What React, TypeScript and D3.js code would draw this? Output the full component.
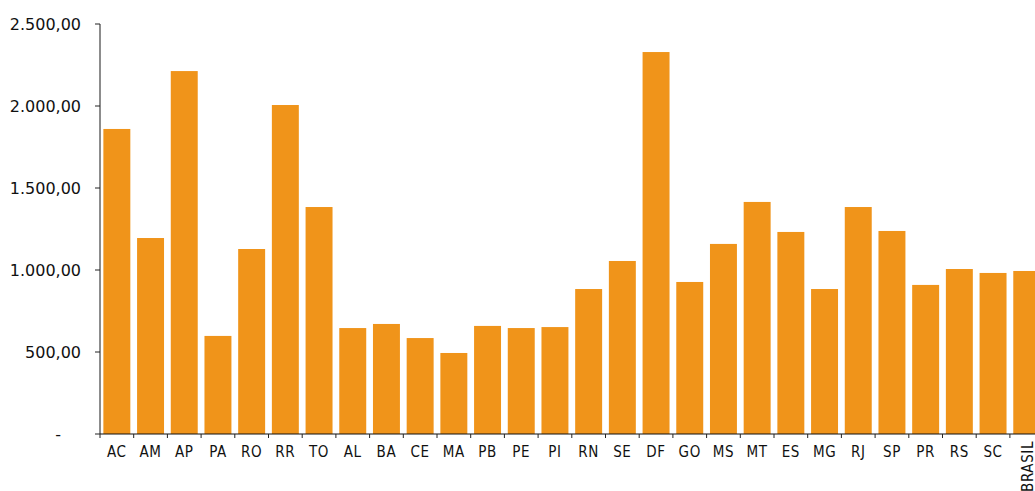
import React from "react";
import * as d3 from "d3";

const states: string[] = [
  "AC", "AM", "AP", "PA", "RO", "RR", "TO",
  "AL", "BA", "CE", "MA", "PB", "PE", "PI", "RN", "SE",
  "DF", "GO", "MS", "MT",
  "ES", "MG", "RJ", "SP",
  "PR", "RS", "SC",
  "BRASIL",
];

const values: number[] = [
  1860, 1195, 2213, 598, 1128, 2006, 1384,
  646, 671, 585, 494, 659, 646, 652, 884, 1055,
  2329, 927, 1159, 1415,
  1232, 884, 1384, 1238,
  909, 1006, 982,
  994,
];

const yTicks: number[] = [0, 500, 1000, 1500, 2000, 2500];

const WIDTH = 1035;
const HEIGHT = 491;
const LEFT = 100;
const TOP = 24;
const BOTTOM = 434;
const STEP = 33.7;
const BAR_COLOR = "#F0941A";
const LABEL_FONT = "'DejaVu Sans Condensed', 'DejaVu Sans', sans-serif";

const fmt = (v: number): string => {
  if (v === 0) return "-";
  const s = d3.format(",.2f")(v);
  return s.replace(/,/g, "#").replace(/\./g, ",").replace(/#/g, ".");
};

export default function App() {
  const x = d3
    .scaleBand<string>()
    .domain(states)
    .range([LEFT, LEFT + STEP * states.length])
    .paddingInner(0.2)
    .paddingOuter(0.1);

  const y = d3.scaleLinear().domain([0, 2500]).range([BOTTOM, TOP]);
  const step = x.step();

  return (
    <svg
      width={WIDTH}
      height={HEIGHT}
      style={{ position: "absolute", left: 0, top: 0, background: "#fff" }}
      fontFamily="'DejaVu Sans', sans-serif"
    >
      {/* bars */}
      {states.map((s, i) => (
        <rect
          key={s}
          x={x(s)}
          y={y(values[i])}
          width={x.bandwidth()}
          height={y(0) - y(values[i])}
          fill={BAR_COLOR}
        />
      ))}

      {/* y axis */}
      <line x1={LEFT} x2={LEFT} y1={y(2500)} y2={y(0)} stroke="#666" strokeWidth={1.5} />
      {yTicks.map((t) => (
        <g key={t}>
          <line x1={LEFT - 5} x2={LEFT} y1={y(t)} y2={y(t)} stroke="#222" strokeWidth={1} />
          <text
            x={t === 0 ? 61 : 81}
            y={y(t)}
            dy="0.35em"
            textAnchor="end"
            fontSize={16}
            fill="#111"
          >
            {fmt(t)}
          </text>
        </g>
      ))}

      {/* x axis */}
      <line x1={LEFT} x2={WIDTH} y1={y(0)} y2={y(0)} stroke="#111" strokeWidth={1.2} />
      {states.map((s, i) => (
        <line
          key={"t" + s}
          x1={LEFT + i * step}
          x2={LEFT + i * step}
          y1={y(0)}
          y2={y(0) + 4}
          stroke="#222"
          strokeWidth={1}
        />
      ))}
      {states.map((s) => {
        const cx = (x(s) as number) + x.bandwidth() / 2;
        if (s === "BRASIL") {
          return (
            <text
              key={"l" + s}
              transform={`translate(${cx + 6},441) rotate(-90)`}
              textAnchor="end"
              fontSize={15}
              fontFamily={LABEL_FONT}
              letterSpacing={0.6}
              fill="#111"
            >
              {s}
            </text>
          );
        }
        return (
          <text
            key={"l" + s}
            x={cx}
            y={457}
            textAnchor="middle"
            fontSize={15}
            fontFamily={LABEL_FONT}
            letterSpacing={0.6}
            fill="#111"
          >
            {s}
          </text>
        );
      })}
    </svg>
  );
}
